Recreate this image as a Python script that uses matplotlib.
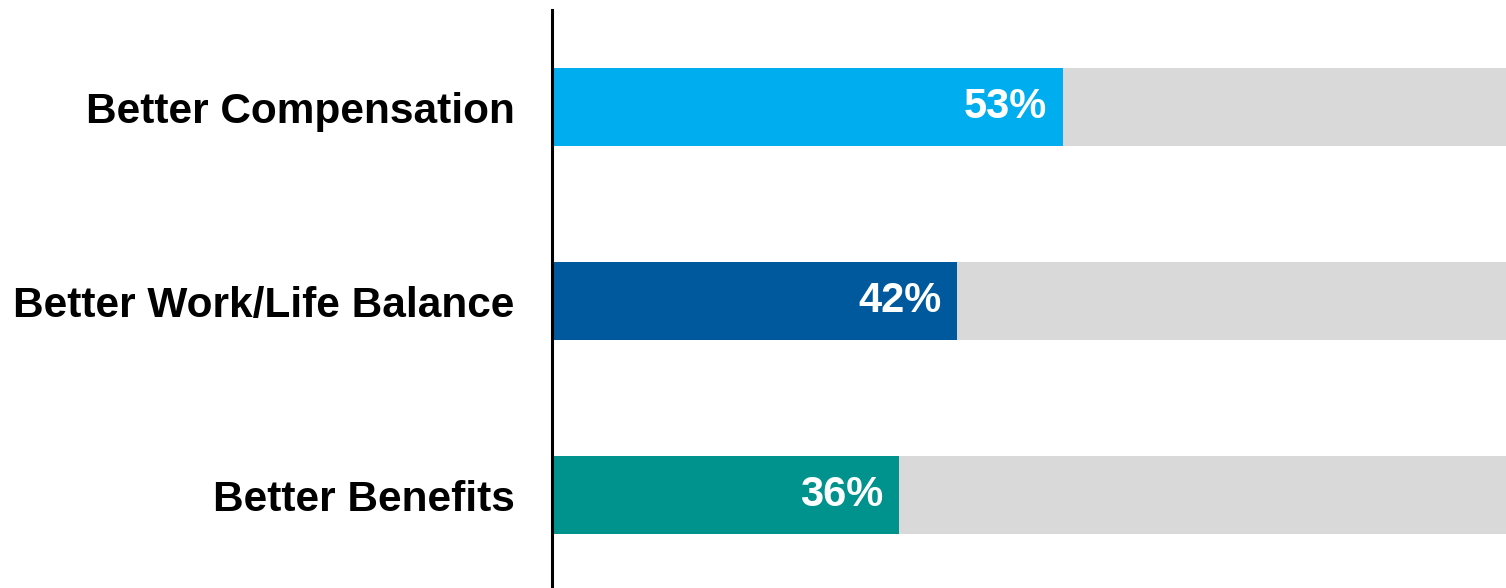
import matplotlib
matplotlib.use("Agg")
import matplotlib.pyplot as plt

categories = ["Better Compensation", "Better Work/Life Balance", "Better Benefits"]
values = [53, 42, 36]
value_labels = ["53%", "42%", "36%"]
colors = ["#00AEEF", "#00599D", "#00938D"]
bg_color = "#D9D9D9"
total = 100

plt.rcParams['font.family'] = ['Liberation Sans', 'DejaVu Sans']

W, H = 1506, 588
fig = plt.figure(figsize=(W / 100, H / 100), dpi=100)
ax = fig.add_axes([552 / W, 0, 1 - 552 / W, 1 - 10 / H])

ypos = list(range(len(categories)))
ax.barh(ypos, [total] * len(values), height=0.4, color=bg_color, zorder=1)
ax.barh(ypos, values, height=0.4, color=colors, zorder=2)

for y, v, lab in zip(ypos, values, value_labels):
    ax.text(v - 1.6, y, lab, ha="right", va="center", color="white",
            fontsize=30, fontweight="bold", zorder=3)

ax.set_xlim(0, (W - 552) / 9.635)
ax.set_ylim(2.479, -0.5)
ax.set_yticks(ypos)
ax.set_yticklabels(categories, fontsize=30.5, fontweight="bold")
ax.tick_params(axis="y", length=0, pad=27)
ax.set_xticks([])
for s in ["top", "right", "bottom"]:
    ax.spines[s].set_visible(False)
ax.spines["left"].set_linewidth(2.2)
ax.spines["left"].set_color("black")
ax.spines["left"].set_zorder(5)

fig.savefig("out.png", dpi=100)
